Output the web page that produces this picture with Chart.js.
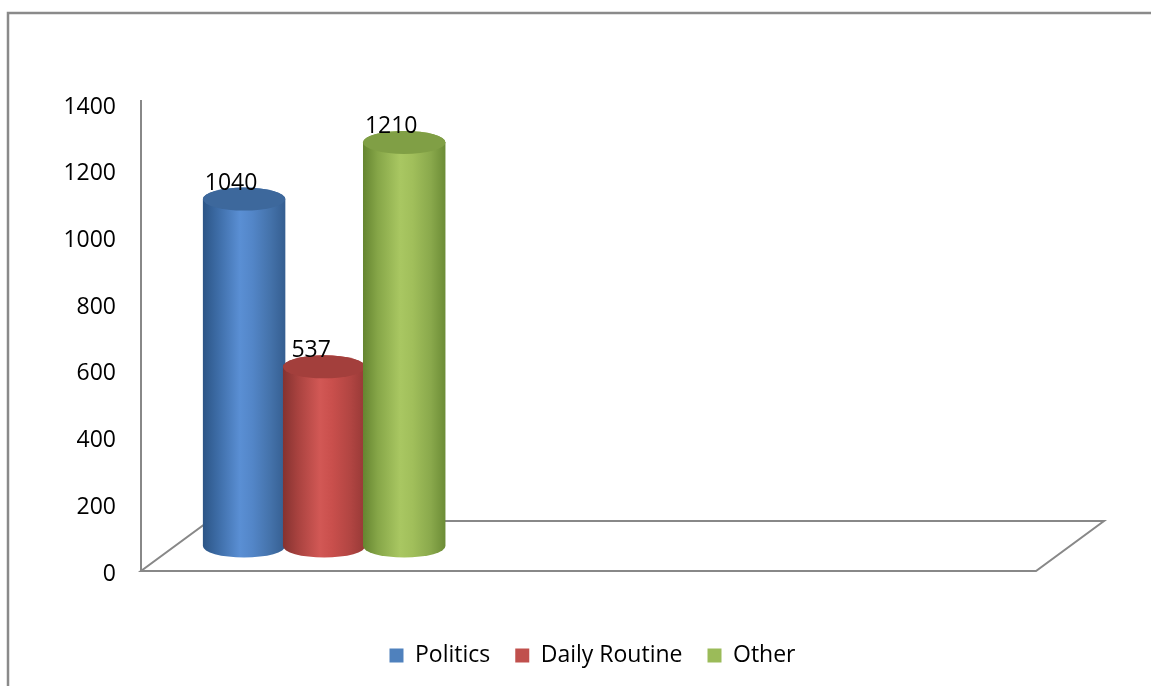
<!DOCTYPE html>
<html>
<head>
<meta charset="utf-8">
<script src="https://cdn.jsdelivr.net/npm/chart.js@4/dist/chart.umd.min.js"></script>
<style>
  html, body { margin: 0; padding: 0; background: #fff; }
  #wrap { width: 1151px; height: 686px; position: relative; }
</style>
</head>
<body>
<div id="wrap"><canvas id="c"></canvas></div>
<script>
// ---- data ----
const categories = ['', '', ''];
const seriesNames = ['Politics', 'Daily Routine', 'Other'];
const politics = [1040, null, null];
const dailyRoutine = [537, null, null];
const other = [1210, null, null];
const yTicks = [0, 200, 400, 600, 800, 1000, 1200, 1400];

// ---- styles ----
const FONT = '"Open Sans", "Liberation Sans", sans-serif';
const seriesStyle = [
  { base: '#4F81BD', top: '#3d689c', stops: ['#2c5586', '#3d6ca6', '#5a8fd4', '#5386c8', '#4472aa', '#355e90'] },
  { base: '#C0504D', top: '#a33f3c', stops: ['#853230', '#a8423f', '#d25855', '#c94f4c', '#b14542', '#963936'] },
  { base: '#9BBB59', top: '#809f45', stops: ['#658530', '#86a648', '#a9c762', '#a1bf5b', '#8aa94c', '#6c8c36'] }
];
const DEPTH = { x: 68, y: -50 };
const GRAY = '#888888';

const cylinderPlugin = {
  id: 'cyl3d',
  beforeDraw(chart) {
    const ctx = chart.ctx;
    ctx.save();
    ctx.strokeStyle = '#8a8a8a';
    ctx.lineWidth = 2.5;
    ctx.beginPath();
    ctx.moveTo(8, chart.height);
    ctx.lineTo(8, 13);
    ctx.lineTo(chart.width, 13);
    ctx.stroke();
    ctx.restore();
  },
  beforeDatasetsDraw(chart) {
    const ctx = chart.ctx;
    const ca = chart.chartArea;
    const y0 = chart.scales.y.getPixelForValue(0);
    ctx.save();
    ctx.strokeStyle = GRAY;
    ctx.lineWidth = 2;
    ctx.beginPath();
    ctx.moveTo(ca.left, y0);
    ctx.lineTo(ca.right, y0);
    ctx.lineTo(ca.right + DEPTH.x, y0 + DEPTH.y);
    ctx.lineTo(ca.left + DEPTH.x, y0 + DEPTH.y);
    ctx.closePath();
    ctx.stroke();
    // value axis line, slightly taller than the plot like the reference
    ctx.beginPath();
    ctx.moveTo(ca.left, ca.top - 4);
    ctx.lineTo(ca.left, y0);
    ctx.stroke();
    ctx.restore();
    return false; // default flat bars replaced by cylinders in afterDraw
  },
  afterDraw(chart) {
    const ctx = chart.ctx;
    const sx = DEPTH.x / 2, sy = DEPTH.y / 2;
    const ry = 11.5;
    const labels = [];
    chart.data.datasets.forEach((ds, di) => {
      const meta = chart.getDatasetMeta(di);
      const st = seriesStyle[di];
      meta.data.forEach((el, i) => {
        const v = ds.data[i];
        if (v === null || v === undefined) return;
        const cx = el.x + sx;
        const top = el.y + sy;
        const bot = el.base + sy;
        const rx = el.width / 2;
        const l = cx - rx, r = cx + rx;
        const g = ctx.createLinearGradient(l, 0, r, 0);
        const pos = [0, 0.18, 0.45, 0.6, 0.82, 1];
        st.stops.forEach((c, k) => g.addColorStop(pos[k], c));
        ctx.save();
        ctx.beginPath();
        ctx.moveTo(l, top);
        ctx.lineTo(l, bot);
        ctx.ellipse(cx, bot, rx, ry, 0, Math.PI, 0, true);
        ctx.lineTo(r, top);
        ctx.ellipse(cx, top, rx, ry, 0, 0, Math.PI, true);
        ctx.closePath();
        ctx.fillStyle = g;
        ctx.fill();
        ctx.beginPath();
        ctx.ellipse(cx, top, rx, ry, 0, 0, Math.PI * 2);
        ctx.fillStyle = st.top;
        ctx.fill();
        ctx.restore();
        labels.push({ x: cx - 13, y: top - 16, text: String(v) });
      });
    });
    ctx.save();
    ctx.font = '23px ' + FONT;
    ctx.fillStyle = '#000';
    ctx.textAlign = 'center';
    ctx.textBaseline = 'middle';
    labels.forEach(lb => ctx.fillText(lb.text, lb.x, lb.y));
    ctx.restore();
  }
};

const data = {
  labels: categories,
  datasets: [
    { label: seriesNames[0], data: politics, backgroundColor: seriesStyle[0].base },
    { label: seriesNames[1], data: dailyRoutine, backgroundColor: seriesStyle[1].base },
    { label: seriesNames[2], data: other, backgroundColor: seriesStyle[2].base }
  ]
};

new Chart(document.getElementById('c'), {
  type: 'bar',
  data,
  plugins: [cylinderPlugin],
  options: {
    responsive: true,
    maintainAspectRatio: false,
    animation: false,
    devicePixelRatio: 1,
    layout: { padding: { left: 34, top: 104, right: 0, bottom: 9 } },
    datasets: { bar: { categoryPercentage: 0.805, barPercentage: 1.03 } },
    scales: {
      x: {
        display: true,
        grid: { display: false },
        border: { display: false },
        ticks: { display: false },
        afterFit(s) { s.height = 48; }
      },
      y: {
        min: 0, max: 1400,
        afterBuildTicks(s) { s.ticks = yTicks.map(v => ({ value: v })); },
        grid: { display: false, drawTicks: false },
        border: { display: false },
        ticks: {
          color: '#000', padding: 25, labelOffset: 3,
          font: { family: FONT, size: 23 },
          callback: v => String(v)
        },
        afterFit(s) { s.width = 107; }
      },
      y2: {
        position: 'right',
        display: true,
        grid: { display: false, drawTicks: false },
        border: { display: false },
        ticks: { display: false },
        afterFit(s) { s.width = 115; }
      }
    },
    plugins: {
      legend: {
        position: 'bottom',
        labels: {
          color: '#000',
          boxWidth: 14,
          boxHeight: 14,
          padding: 25,
          font: { family: FONT, size: 23 }
        }
      },
      tooltip: { enabled: false }
    }
  }
});
</script>
</body>
</html>
